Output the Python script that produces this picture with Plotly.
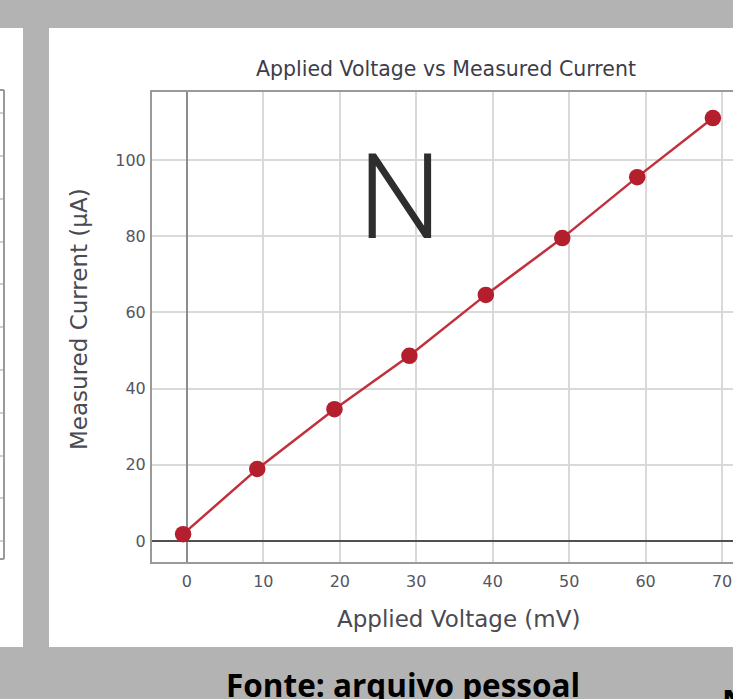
import plotly.graph_objects as go

# Measured points: applied voltage (mV) vs measured current (µA)
voltage_mv = [-0.5, 9.2, 19.3, 29.1, 39.1, 49.1, 58.9, 68.8]
current_ua = [1.8, 18.9, 34.6, 48.6, 64.6, 79.5, 95.5, 111.0]

x_ticks = [0, 10, 20, 30, 40, 50, 60, 70]
y_ticks = [0, 20, 40, 60, 80, 100]

title_text = "Applied Voltage vs Measured Current"
x_title = "Applied Voltage (mV)"
y_title = "Measured Current (µA)"
source_text = "Fonte: arquivo pessoal"
panel_label = "N"

# Page geometry (pixels)
W, H = 733, 699
L, T, R, B = 152, 92, 733, 562  # plot area


def fx(p):
    return (p - L) / (R - L)


def fy(p):
    return (B - p) / (B - T)


BG = "#b3b3b3"
FONT = "DejaVu Sans"

fig = go.Figure()
fig.add_trace(go.Scatter(
    x=voltage_mv, y=current_ua, mode="lines+markers",
    line=dict(color="#c2303c", width=2.5),
    marker=dict(color="#b41f2d", size=16.5, line=dict(width=0)),
    showlegend=False, hoverinfo="skip",
))

shapes = []
# white page panels on the grey background
shapes.append(dict(type="rect", xref="paper", yref="paper", layer="below",
                   x0=fx(0), x1=fx(23), y0=fy(647), y1=fy(28),
                   fillcolor="white", line=dict(width=0)))
shapes.append(dict(type="rect", xref="paper", yref="paper", layer="below",
                   x0=fx(49), x1=fx(W), y0=fy(647), y1=fy(28),
                   fillcolor="white", line=dict(width=0)))
# edge of the neighbouring chart frame
for yy in [113, 156, 199, 242, 284, 327, 370, 413, 456, 498, 541]:
    shapes.append(dict(type="line", xref="paper", yref="paper",
                       x0=fx(0), x1=fx(3), y0=fy(yy), y1=fy(yy),
                       line=dict(color="#cfcfcf", width=2)))
shapes.append(dict(type="line", xref="paper", yref="paper",
                   x0=fx(4), x1=fx(4), y0=fy(559), y1=fy(90),
                   line=dict(color="#9a9a9a", width=2)))
shapes.append(dict(type="line", xref="paper", yref="paper",
                   x0=fx(0), x1=fx(4), y0=fy(90), y1=fy(90),
                   line=dict(color="#9a9a9a", width=2)))
shapes.append(dict(type="line", xref="paper", yref="paper",
                   x0=fx(0), x1=fx(4), y0=fy(559), y1=fy(559),
                   line=dict(color="#9a9a9a", width=2)))

annotations = [
    dict(text=title_text, x=fx(446), y=fy(69), xref="paper", yref="paper",
         xanchor="center", yanchor="middle", showarrow=False,
         font=dict(family=FONT, size=20.5, color="#3d3d48")),
    dict(text=x_title, x=fx(458), y=fy(619), xref="paper", yref="paper",
         xanchor="center", yanchor="middle", showarrow=False,
         font=dict(family=FONT, size=23, color="#4a4a52")),
    dict(text=y_title, x=fx(79), y=fy(319), xref="paper", yref="paper",
         xanchor="center", yanchor="middle", showarrow=False, textangle=-90,
         font=dict(family=FONT, size=23, color="#4a4a52")),
    dict(text=panel_label, x=fx(400), y=fy(198), xref="paper", yref="paper",
         xanchor="center", yanchor="middle", showarrow=False,
         font=dict(family="Roboto", size=118, color="#2e2e2e", weight=300)),
    dict(text="<b>" + source_text + "</b>", x=fx(403), y=fy(684), xref="paper",
         yref="paper", xanchor="center", yanchor="middle", showarrow=False,
         font=dict(family="Open Sans", size=31.5, color="black")),
    dict(text="<b>N</b>", x=fx(720), y=fy(700), xref="paper",
         yref="paper", xanchor="left", yanchor="middle", showarrow=False,
         font=dict(family="Open Sans", size=31.5, color="black")),
]

axis_common = dict(
    showgrid=True, gridcolor="#d9d9d9", gridwidth=2,
    showline=True, linecolor="#9a9a9a", linewidth=2,
    zeroline=True, zerolinewidth=2,
    tickfont=dict(family=FONT, size=16, color="#555560"),
    ticks="", fixedrange=True,
)

fig.update_layout(
    width=W, height=H, autosize=False,
    margin=dict(l=L, r=W - R, t=T, b=H - B, pad=0),
    paper_bgcolor=BG, plot_bgcolor="white",
    xaxis=dict(range=[-4.565, 71.43], tickvals=x_ticks, mirror=True,
               zerolinecolor="#8c8c8c", ticklabelstandoff=4, **axis_common),
    yaxis=dict(range=[-5.51, 117.85], tickvals=y_ticks, mirror=False,
               zerolinecolor="#505050", ticklabelstandoff=1, **axis_common),
    shapes=shapes, annotations=annotations,
)

fig.write_html("out.html")
